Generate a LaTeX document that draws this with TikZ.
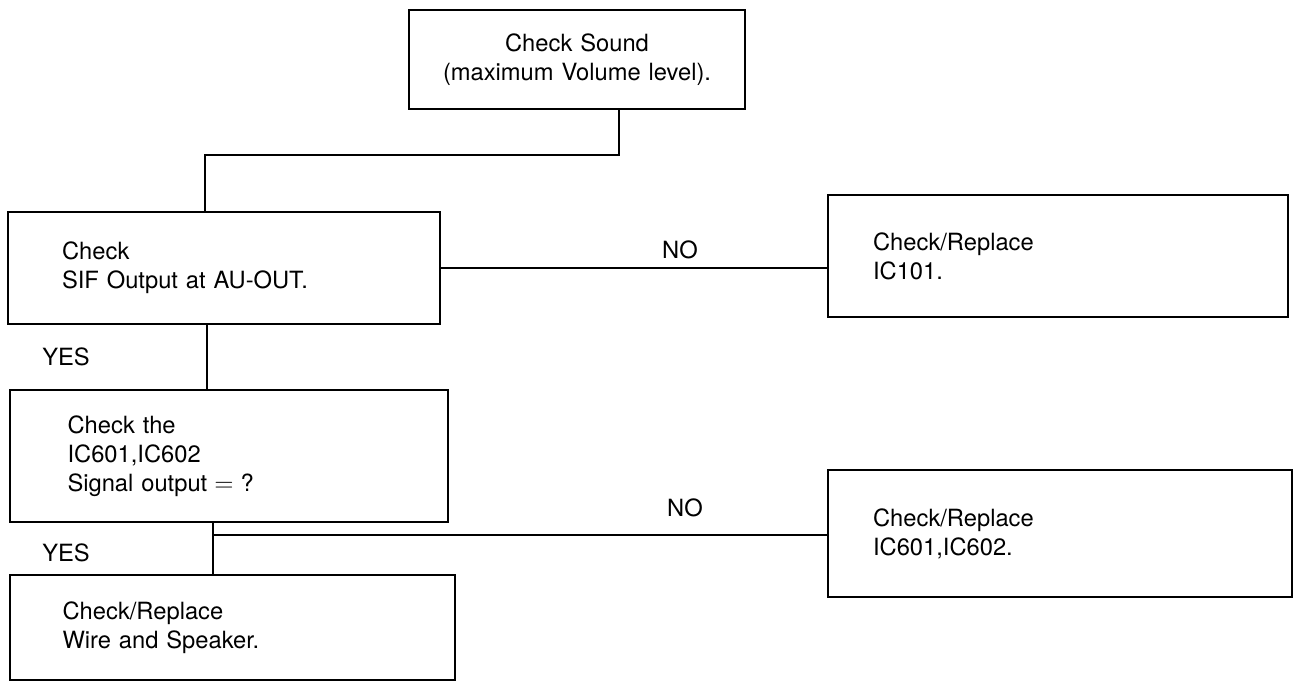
\documentclass[tikz,border=0pt]{standalone}
\usepackage{fontspec}
\setmainfont{TeX Gyre Heros}

\tikzset{
  chkbox/.style={draw, line width=1.1pt, align=left, inner ysep=0pt,
                 font=\fontsize{13.5}{16.5}\selectfont},
  lbl/.style={font=\fontsize{13.5}{16.5}\selectfont},
  wire/.style={line width=1.1pt}
}

\begin{document}
\begin{tikzpicture}[x=0.02cm, y=-0.02cm]
  \useasboundingbox (0,0) rectangle (1297,686);

  % boxes
  \node[chkbox, align=center, minimum width=6.72cm, minimum height=1.98cm,
        text width=6.2cm] (snd) at (577,59.5)
       {Check Sound\\(maximum Volume level).};
  \node[chkbox, minimum width=8.64cm, minimum height=2.24cm,
        inner xsep=1.08cm, text width=6.48cm] (chk1) at (224,268)
       {Check\\SIF Output at AU-OUT.};
  \node[chkbox, minimum width=9.2cm, minimum height=2.44cm,
        inner xsep=0.9cm, text width=7.4cm] (rep1) at (1058,256)
       {Check/Replace\\IC101.};
  \node[chkbox, minimum width=8.76cm, minimum height=2.64cm,
        inner xsep=1.15cm, text width=6.46cm] (chk2) at (229,456)
       {Check the\\IC601,IC602\\Signal output${}={}$?};
  \node[chkbox, minimum width=9.28cm, minimum height=2.54cm,
        inner xsep=0.9cm, text width=7.48cm] (rep2) at (1060,533.5)
       {Check/Replace\\IC601,IC602.};
  \node[chkbox, minimum width=8.9cm, minimum height=2.1cm,
        inner xsep=1.05cm, text width=6.8cm] (chk3) at (232.5,627.5)
       {Check/Replace\\Wire and Speaker.};

  % labels
  \node[lbl] (no1) at (680,250) {NO};
  \node[lbl] (yes1) at (66,357) {YES};
  \node[lbl] (no2) at (685,508) {NO};
  \node[lbl] (yes2) at (66,553) {YES};

  % connectors
  \coordinate (k1) at (619,155);
  \coordinate (j1) at (205,155);
  \coordinate (j2) at (207,357);
  \coordinate (j3) at (213,535);
  \draw[wire] (snd.south -| k1) -- (k1) -- (j1) -- (j1 |- chk1.north);
  \draw[wire] (chk1.east) -- (chk1.east -| rep1.west);
  \draw[wire] (chk1.south -| j2) -- (chk2.north -| j2);
  \draw[wire] (chk2.south -| j3) -- (chk3.north -| j3);
  \draw[wire] (j3) -- (j3 -| rep2.west);
\end{tikzpicture}
\end{document}
